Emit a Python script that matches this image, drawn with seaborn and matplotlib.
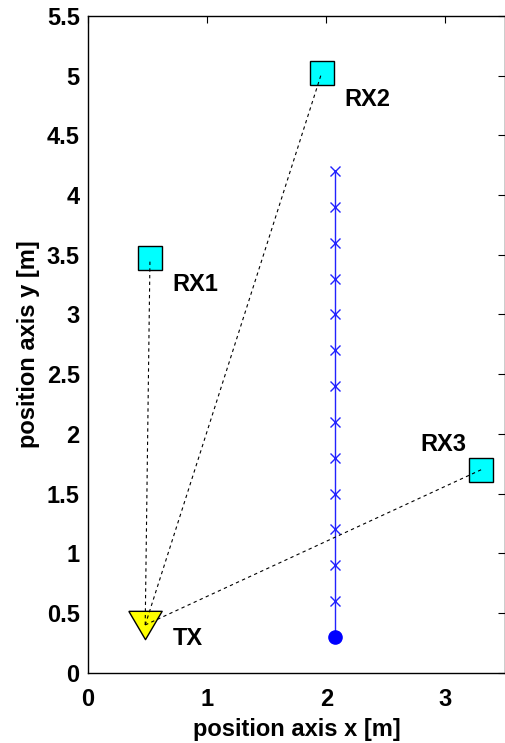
import numpy as np
import pandas as pd
import matplotlib
matplotlib.use("Agg")
import matplotlib.pyplot as plt
import seaborn as sns

# Transmitter and receiver positions [m]
tx_name = "TX"
tx_x = 0.48
tx_y = 0.40
rx_names = ["RX1", "RX2", "RX3"]
rx_x = [0.52, 1.96, 3.30]
rx_y = [3.47, 5.02, 1.70]

# Measurement track: start point and sampled positions [m]
track_x = 2.07
track_start_y = 0.30
track_y = [0.6, 0.9, 1.2, 1.5, 1.8, 2.1, 2.4, 2.7, 3.0, 3.3, 3.6, 3.9, 4.2]

x_ticks = [0, 1, 2, 3]
y_ticks = [0, 0.5, 1, 1.5, 2, 2.5, 3, 3.5, 4, 4.5, 5, 5.5]

sns.set_style("white")
plt.rcParams["font.family"] = ["Liberation Sans", "DejaVu Sans"]
plt.rcParams["font.weight"] = "bold"
plt.rcParams["text.color"] = "black"
plt.rcParams["axes.labelcolor"] = "black"
plt.rcParams["xtick.color"] = "black"
plt.rcParams["ytick.color"] = "black"

fig = plt.figure(figsize=(5.05, 7.43), dpi=100)
ax = fig.add_axes([0.1743, 0.0946, 0.8257, 0.8839])

# Track line from start to last sample, with cross markers on samples
track_df = pd.DataFrame({"x": [track_x] * (len(track_y) + 1),
                         "y": [track_start_y] + track_y})
sns.lineplot(data=track_df, x="x", y="y", sort=False, estimator=None,
             color="#2222ff", lw=1.0, ax=ax, zorder=2)
samples = pd.DataFrame({"x": [track_x] * len(track_y), "y": track_y})
ax.plot(samples["x"], samples["y"], ls="none", marker="x", ms=7,
        mew=1.0, color="#2222ff", zorder=3)
ax.plot([track_x], [track_start_y], ls="none", marker="o", ms=9.5,
        color="blue", mec="blue", zorder=3)

# Receivers
rx_df = pd.DataFrame({"x": rx_x, "y": rx_y, "name": rx_names})
ax.plot(rx_df["x"], rx_df["y"], ls="none", marker="s", ms=17,
        mfc="cyan", mec="black", mew=1.0, zorder=3)

# Transmitter (downward triangle)
tri = [(-1, 0.85), (1, 0.85), (0, -0.85), (-1, 0.85)]
ax.plot([tx_x], [tx_y], ls="none", marker=tri, ms=24,
        mfc="yellow", mec="black", mew=1.0, zorder=3)

# Links from transmitter to each receiver
for rx, ry in zip(rx_x, rx_y):
    ax.plot([tx_x, rx], [tx_y, ry], color="black", lw=0.8,
            ls=(0, (3, 3)), zorder=4)

# Labels
label_kw = dict(fontsize=17, fontweight="bold", va="center", ha="left",
                color="black")
offsets = {"RX1": (0.19, -0.22), "RX2": (0.19, -0.22), "RX3": (-0.51, 0.21)}
for name, rx, ry in zip(rx_names, rx_x, rx_y):
    dx, dy = offsets[name]
    ax.text(rx + dx, ry + dy, name, **label_kw)
ax.text(tx_x + 0.23, tx_y - 0.11, tx_name, **label_kw)

ax.set_xlim(0, 3.5)
ax.set_ylim(0, 5.5)
ax.set_xticks(x_ticks)
ax.set_yticks(y_ticks)
ax.set_xticklabels([f"{t:g}" for t in x_ticks])
ax.set_yticklabels([f"{t:g}" for t in y_ticks])
ax.tick_params(direction="in", length=5, width=0.8, top=True, right=True,
               labelsize=17)
ax.tick_params(axis="x", pad=11)
ax.tick_params(axis="y", pad=6)
for lab in ax.get_xticklabels() + ax.get_yticklabels():
    lab.set_fontweight("bold")
for sp in ax.spines.values():
    sp.set_visible(True)
    sp.set_color("black")
    sp.set_linewidth(1.0)

ax.set_xlabel("position axis x [m]", fontsize=17, fontweight="bold", labelpad=5)
ax.set_ylabel("position axis y [m]", fontsize=17, fontweight="bold", labelpad=5)

fig.savefig("out.png", dpi=100)
